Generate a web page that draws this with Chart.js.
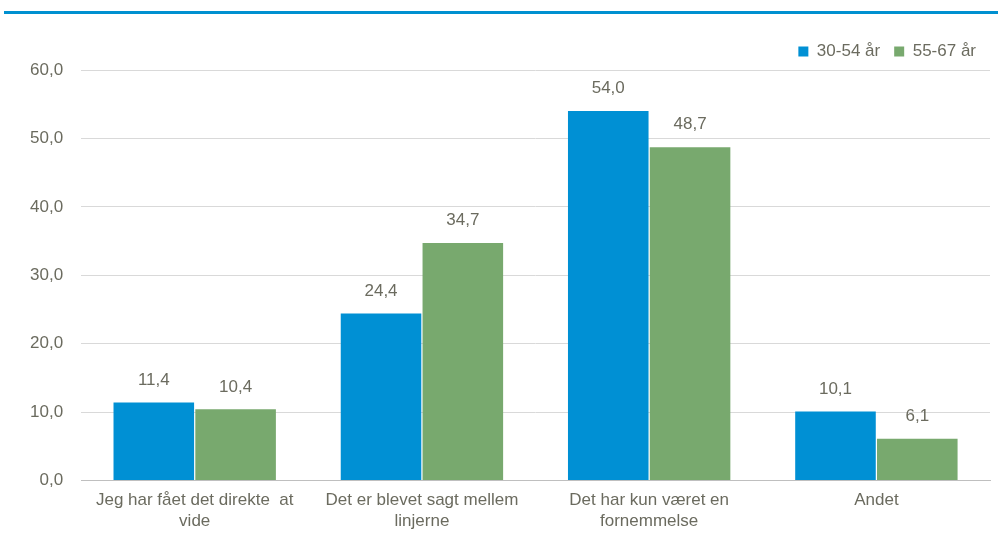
<!DOCTYPE html>
<html>
<head>
<meta charset="utf-8">
<script src="https://cdn.jsdelivr.net/npm/chart.js@4/dist/chart.umd.min.js"></script>
<style>
  body { margin: 0; background: #fff; }
  #wrap { position: relative; width: 998px; height: 541px; }
</style>
</head>
<body>
<div id="wrap"><canvas id="chart" width="998" height="541"></canvas></div>
<script>
const categories = [
  ["Jeg har fået det direkte  at", "vide"],
  ["Det er blevet sagt mellem", "linjerne"],
  ["Det har kun været en", "fornemmelse"],
  "Andet"
];
const young = [11.4, 24.4, 54.0, 10.1];
const old = [10.4, 34.7, 48.7, 6.1];
const seriesNames = ["30-54 år", "55-67 år"];

const fontFamily = "'Liberation Sans', Arial, sans-serif";
const textColor = "#6b6b5f";

function fmt(v) {
  return v.toFixed(1).replace(".", ",");
}

// blue rule at top + value labels
const extras = {
  id: "extras",
  beforeDraw(chart) {
    const ctx = chart.ctx;
    ctx.save();
    ctx.fillStyle = "#0090d0";
    ctx.fillRect(4, 11, 994, 3);
    ctx.restore();
  },
  afterDatasetsDraw(chart) {
    const ctx = chart.ctx;
    ctx.save();
    ctx.font = "17px " + fontFamily;
    ctx.fillStyle = textColor;
    ctx.textAlign = "center";
    ctx.textBaseline = "bottom";
    chart.data.datasets.forEach((ds, i) => {
      chart.getDatasetMeta(i).data.forEach((bar, j) => {
        ctx.fillText(fmt(ds.data[j]), bar.x, bar.y - 14);
      });
    });
    ctx.restore();
  }
};

new Chart(document.getElementById("chart"), {
  type: "bar",
  data: {
    labels: categories,
    datasets: [
      { label: seriesNames[0], data: young, backgroundColor: "#0090d4" },
      { label: seriesNames[1], data: old, backgroundColor: "#78a96e" }
    ]
  },
  options: {
    responsive: false,
    animation: false,
    layout: { padding: { top: 29, right: 8, left: 12, bottom: 0 } },
    datasets: { bar: { categoryPercentage: 0.72, barPercentage: 0.985 } },
    plugins: {
      legend: {
        position: "top",
        align: "end",
        labels: {
          boxWidth: 10,
          boxHeight: 10,
          padding: 14,
          color: textColor,
          font: { family: fontFamily, size: 17 }
        }
      },
      tooltip: { enabled: false }
    },
    scales: {
      y: {
        min: 0,
        max: 60,
        ticks: {
          stepSize: 10,
          color: textColor,
          padding: 18,
          font: { family: fontFamily, size: 17 },
          callback: (v) => fmt(v)
        },
        grid: { color: "#d9d9d9", drawTicks: false },
        border: { display: false }
      },
      x: {
        ticks: {
          color: textColor,
          padding: 9,
          font: { family: fontFamily, size: 17, lineHeight: 1.25 },
          maxRotation: 0
        },
        grid: { display: false, drawTicks: false },
        border: { color: "#bfbfbf" }
      }
    }
  },
  plugins: [extras]
});
</script>
</body>
</html>
